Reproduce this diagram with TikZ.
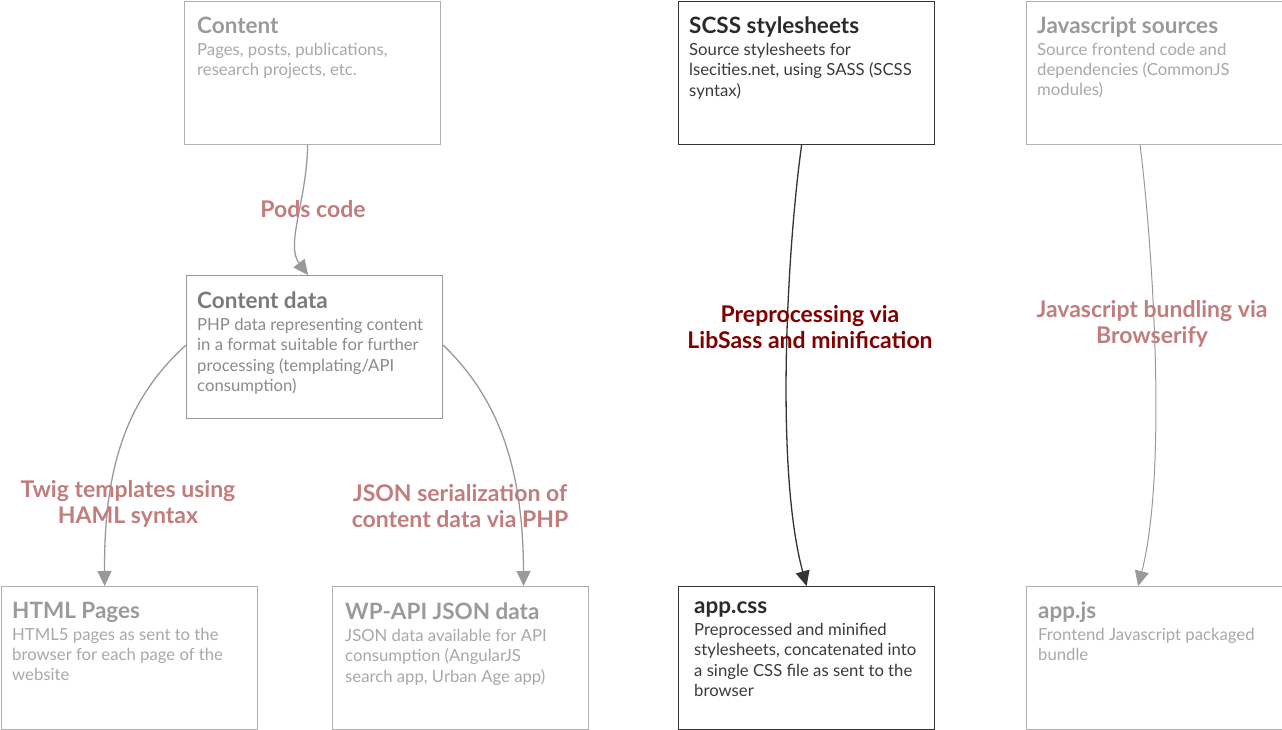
\documentclass[tikz,border=0pt]{standalone}
\usepackage{fontspec}
\setmainfont{Lato}
\usetikzlibrary{arrows.meta}
\definecolor{lborder}{HTML}{B0B0B0}
\definecolor{ltitle}{HTML}{9A9A9A}
\definecolor{lbody}{HTML}{A8A8A8}
\definecolor{mborder}{HTML}{999999}
\definecolor{mtitle}{HTML}{7A7A7A}
\definecolor{mbody}{HTML}{8A8A8A}
\definecolor{dborder}{HTML}{333333}
\definecolor{dtitle}{HTML}{2A2A2A}
\definecolor{dbody}{HTML}{3A3A3A}
\definecolor{pinklab}{HTML}{C17C7C}
\definecolor{redlab}{HTML}{800000}
\definecolor{larrow}{HTML}{999999}
\definecolor{darrow}{HTML}{333333}
\newcommand{\bxttl}[2]{{\fontsize{22.5}{25}\selectfont\bfseries\color{#1}#2}\\[1.5pt]}
\tikzset{
  x=1pt, y=-1pt,
  box/.style={draw, line width=1.2pt, minimum width=256pt, minimum height=143pt, inner sep=0pt, anchor=north west},
  lbox/.style={box, draw=lborder},
  mbox/.style={box, draw=mborder},
  dbox/.style={box, draw=dborder},
  txt/.style={anchor=north west, align=left, inner sep=0pt, font=\fontsize{16.7}{20.2}\selectfont},
  lab/.style={align=center, inner sep=0pt, font=\fontsize{23}{26}\selectfont\bfseries},
  arr/.style={line width=1.3pt, -{Triangle[width=14pt,length=15pt]}},
}
\begin{document}
\begin{tikzpicture}
\useasboundingbox (0,0) rectangle (1282,730);
% boxes
\node[lbox] (content) at (184,1) {};
\node[mbox] (cdata) at (186,275) {};
\node[lbox] (html) at (1,586) {};
\node[lbox] (wpapi) at (332,586) {};
\node[dbox] (scss) at (678,1) {};
\node[dbox] (appcss) at (678,586) {};
\node[lbox] (jssrc) at (1026,1) {};
\node[lbox] (appjs) at (1026,586) {};
% texts
\node[txt, text=lbody] (t1) at (197,17) {\bxttl{ltitle}{Content}Pages, posts, publications,\\research projects, etc.};
\node[txt, text=mbody] (t2) at (197,292) {\bxttl{mtitle}{Content data}PHP data representing content\\in a format suitable for further\\processing (templating/API\\consumption)};
\node[txt, text=lbody] (t3) at (12,602) {\bxttl{ltitle}{HTML Pages}HTML5 pages as sent to the\\browser for each page of the\\website};
\node[txt, text=lbody] (t4) at (345,603) {\bxttl{ltitle}{WP-API JSON data}JSON data available for API\\consumption (AngularJS\\search app, Urban Age app)};
\node[txt, text=dbody] (t5) at (689,17) {\bxttl{dtitle}{SCSS stylesheets}Source stylesheets for\\lsecities.net, using SASS (SCSS\\syntax)};
\node[txt, text=dbody] (t6) at (694,602) {\bxttl{dtitle}{app.css}Preprocessed and minified\\stylesheets, concatenated into\\a single CSS file as sent to the\\browser};
\node[txt, text=lbody] (t7) at (1037,17) {\bxttl{ltitle}{Javascript sources}Source frontend code and\\dependencies (CommonJS\\modules)};
\node[txt, text=lbody] (t8) at (1038,602) {\bxttl{ltitle}{app.js}Frontend Javascript packaged\\bundle};
% connectors
\draw[arr, larrow] ([xshift=-5pt]content.south) .. controls (307,200) and (285,245) .. ([xshift=-6.5pt]cdata.north);
\draw[arr, larrow] ([yshift=2pt]cdata.west) .. controls (125,400) and (104,470) .. ([xshift=-25pt]html.north);
\draw[arr, larrow] ([yshift=2pt]cdata.east) .. controls (500,400) and (523,470) .. ([xshift=63pt]wpapi.north);
\draw[arr, darrow] ([xshift=-5pt]scss.south) .. controls (787,250) and (775,470) .. (appcss.north);
\draw[arr, larrow, line width=1pt] ([xshift=-14.5pt]jssrc.south) .. controls (1152,240) and (1168,470) .. ([xshift=-16.5pt]appjs.north);
% labels
\node[lab, text=pinklab] (l1) at (313,209) {Pods code};
\node[lab, text=pinklab] (l2) at (128,504) {Twig templates using\\HAML syntax};
\node[lab, text=pinklab] (l3) at (460,506) {JSON serialization of\\content data via PHP};
\node[lab, text=redlab] (l4) at (810,327) {Preprocessing via\\LibSass and minification};
\node[lab, text=pinklab] (l5) at (1152,324) {Javascript bundling via\\Browserify};
\end{tikzpicture}
\end{document}
